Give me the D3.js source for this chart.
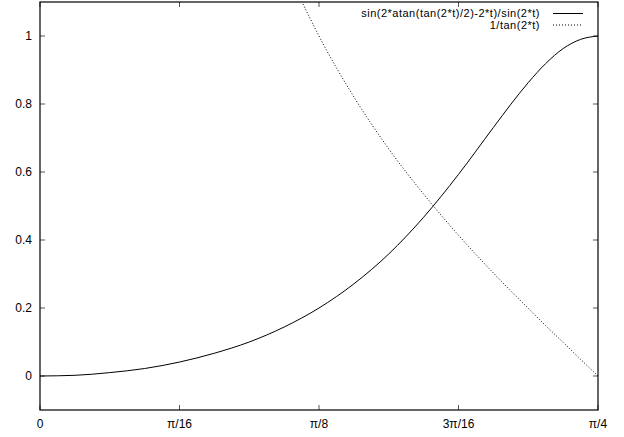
<!DOCTYPE html>
<html>
<head>
<meta charset="utf-8">
<script src="https://cdn.jsdelivr.net/npm/d3@7"></script>
<style>
  body { margin: 0; background: #fff; }
  text { font-family: "Liberation Sans", Arial, Helvetica, sans-serif; fill: #000; }
</style>
</head>
<body>
<div id="chart"></div>
<script>
// sample positions, in units of pi/64
const tSteps = [0, 1, 2, 3, 4, 5, 6, 7, 8, 9, 10, 11, 12, 13, 13.5, 14, 14.5, 15, 15.5, 16];
// sin(2*atan(tan(2*t)/2)-2*t)/sin(2*t)
const solidVals = [0, 0.002, 0.010, 0.022, 0.041, 0.067, 0.100, 0.144, 0.200,
  0.271, 0.359, 0.467, 0.593, 0.731, 0.799, 0.863, 0.919, 0.963, 0.990, 1.000];
// 1/tan(2*t), null where it is off the top
const dottedVals = [null, null, null, null, null, 1.871, 1.497, 1.219, 1.000,
  0.821, 0.668, 0.535, 0.414, 0.303, 0.250, 0.199, 0.148, 0.099, 0.049, 0];
const xTicks = [0, 4, 8, 12, 16];
const xTickLabels = ['0', 'π/16', 'π/8', '3π/16', 'π/4'];
const yTicks = [0, 0.2, 0.4, 0.6, 0.8, 1];
const legendNames = ['sin(2*atan(tan(2*t)/2)-2*t)/sin(2*t)', '1/tan(2*t)'];

const width = 624, height = 437;
const margin = { top: 2, right: 26, bottom: 27, left: 40 };
const w = width - margin.left - margin.right;
const h = height - margin.top - margin.bottom;

const svg = d3.select('#chart').append('svg')
  .attr('width', width)
  .attr('height', height);

const g = svg.append('g')
  .attr('transform', 'translate(' + margin.left + ',' + margin.top + ')');

const x = d3.scaleLinear().domain([0, 16]).range([0, w]);
const y = d3.scaleLinear().domain([-0.1, 1.1]).range([h, 0]);

svg.append('clipPath').attr('id', 'clip')
  .append('rect').attr('width', w).attr('height', h);

// ticks, mirrored on all four sides
const tickLen = 5;
const tickColor = '#555';
xTicks.forEach((t, i) => {
  g.append('line').attr('x1', x(t)).attr('x2', x(t)).attr('y1', h).attr('y2', h - tickLen)
    .attr('stroke', tickColor);
  g.append('line').attr('x1', x(t)).attr('x2', x(t)).attr('y1', 0).attr('y2', tickLen)
    .attr('stroke', tickColor);
  g.append('text').attr('x', x(t)).attr('y', h + 18)
    .attr('text-anchor', 'middle').style('font-size', '12px')
    .text(xTickLabels[i]);
});
yTicks.forEach(v => {
  g.append('line').attr('x1', 0).attr('x2', tickLen).attr('y1', y(v)).attr('y2', y(v))
    .attr('stroke', tickColor);
  g.append('line').attr('x1', w).attr('x2', w - tickLen).attr('y1', y(v)).attr('y2', y(v))
    .attr('stroke', tickColor);
  g.append('text').attr('x', -8).attr('y', y(v)).attr('dy', '0.35em')
    .attr('text-anchor', 'end').style('font-size', '12px')
    .text(v);
});

g.append('rect')
  .attr('width', w).attr('height', h)
  .attr('fill', 'none').attr('stroke', '#000').attr('stroke-width', 1.2);

const line = vals => d3.line()
  .defined((d, i) => vals[i] !== null)
  .x(d => x(d))
  .y((d, i) => y(vals[i]))
  .curve(d3.curveMonotoneX)(tSteps);

const plot = g.append('g').attr('clip-path', 'url(#clip)');
plot.append('path').attr('d', line(solidVals))
  .attr('fill', 'none').attr('stroke', '#000').attr('stroke-width', 1);
plot.append('path').attr('d', line(dottedVals))
  .attr('fill', 'none').attr('stroke', '#000').attr('stroke-width', 1)
  .attr('stroke-dasharray', '1,2');

// legend
const legend = svg.append('g');
legendNames.forEach((name, i) => {
  const ly = 13.5 + i * 11.5;
  legend.append('text').attr('x', 540).attr('y', ly).attr('dy', '0.35em')
    .attr('text-anchor', 'end').style('font-size', '11px')
    .style('letter-spacing', '0.5px').text(name);
  legend.append('line').attr('x1', 553).attr('x2', 583).attr('y1', ly).attr('y2', ly)
    .attr('stroke', '#000').attr('stroke-width', 1)
    .attr('stroke-dasharray', i === 1 ? '1,2' : null);
});
</script>
</body>
</html>
